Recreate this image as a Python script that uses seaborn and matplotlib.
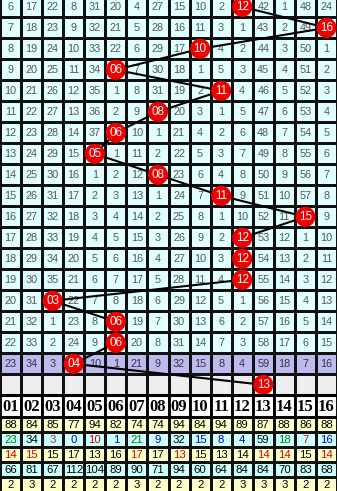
import numpy as np
import pandas as pd
import matplotlib
matplotlib.use("Agg")
import matplotlib.pyplot as plt
import seaborn as sns
from matplotlib.colors import ListedColormap

# ---------------- data ----------------
header_labels = [f"{i:02d}" for i in range(1, 17)]

# omission values per issue (drawn cell stored as 0)
omission_rows = [
    [6, 17, 22, 8, 31, 20, 4, 27, 15, 10, 2, 0, 42, 1, 48, 24],
    [7, 18, 23, 9, 32, 21, 5, 28, 16, 11, 3, 1, 43, 2, 49, 0],
    [8, 19, 24, 10, 33, 22, 6, 29, 17, 0, 4, 2, 44, 3, 50, 1],
    [9, 20, 25, 11, 34, 0, 7, 30, 18, 1, 5, 3, 45, 4, 51, 2],
    [10, 21, 26, 12, 35, 1, 8, 31, 19, 2, 0, 4, 46, 5, 52, 3],
    [11, 22, 27, 13, 36, 2, 9, 0, 20, 3, 1, 5, 47, 6, 53, 4],
    [12, 23, 28, 14, 37, 0, 10, 1, 21, 4, 2, 6, 48, 7, 54, 5],
    [13, 24, 29, 15, 0, 1, 11, 2, 22, 5, 3, 7, 49, 8, 55, 6],
    [14, 25, 30, 16, 1, 2, 12, 0, 23, 6, 4, 8, 50, 9, 56, 7],
    [15, 26, 31, 17, 2, 3, 13, 1, 24, 7, 0, 9, 51, 10, 57, 8],
    [16, 27, 32, 18, 3, 4, 14, 2, 25, 8, 1, 10, 52, 11, 0, 9],
    [17, 28, 33, 19, 4, 5, 15, 3, 26, 9, 2, 0, 53, 12, 1, 10],
    [18, 29, 34, 20, 5, 6, 16, 4, 27, 10, 3, 0, 54, 13, 2, 11],
    [19, 30, 35, 21, 6, 7, 17, 5, 28, 11, 4, 0, 55, 14, 3, 12],
    [20, 31, 0, 22, 7, 8, 18, 6, 29, 12, 5, 1, 56, 15, 4, 13],
    [21, 32, 1, 23, 8, 0, 19, 7, 30, 13, 6, 2, 57, 16, 5, 14],
    [22, 33, 2, 24, 9, 0, 20, 8, 31, 14, 7, 3, 58, 17, 6, 15],
    [23, 34, 3, 0, 10, 1, 21, 9, 32, 15, 8, 4, 59, 18, 7, 16],
]
draws = [12, 16, 10, 6, 11, 8, 6, 5, 8, 11, 15, 12, 12, 12, 3, 6, 6, 4]
next_pick = 13

stat_total = [88, 84, 85, 77, 94, 82, 74, 74, 94, 84, 94, 89, 87, 88, 86, 88]
stat_current = [23, 34, 3, 0, 10, 1, 21, 9, 32, 15, 8, 4, 59, 18, 7, 16]
stat_current_colors = ["#008000", "#000000", "#B03030", "#0000CC", "#DD0000", "#0000CC",
                       "#008000", "#0000CC", "#000000", "#0000CC", "#0000CC", "#0000CC",
                       "#000000", "#008000", "#DD0000", "#0000CC"]
stat_avg = [14, 15, 15, 17, 13, 16, 17, 17, 13, 15, 13, 14, 14, 14, 15, 14]
stat_avg_colors = ["#DD0000", "#DD0000", "#000000", "#000000", "#000000", "#000000",
                   "#DD0000", "#000000", "#DD0000", "#000000", "#000000", "#000000",
                   "#DD0000", "#DD0000", "#000000", "#DD0000"]
stat_max = [66, 81, 67, 112, 104, 89, 90, 71, 94, 60, 64, 84, 84, 70, 83, 68]
stat_streak = [2, 3, 2, 2, 2, 2, 3, 2, 2, 2, 2, 3, 3, 3, 2, 2]

# ---------------- layout ----------------
W, H = 337, 491
ncol = 16
n_main = len(omission_rows)          # 18 (17 + highlighted last issue)
row_h, stat_h = 21.0, 15.0
top0 = -3.7
heights = [row_h] * n_main + [row_h] + [21.7] + [stat_h] * 5
edges = np.concatenate([[top0], top0 + np.cumsum(heights)])
centers = (edges[:-1] + edges[1:]) / 2

MAIN, PURPLE, GRAY, WHITE, YEL, CYAN = 0, 1, 2, 3, 4, 5
cmap = ListedColormap(["#E2FFFF", "#BBBBEE", "#EEEEEE", "#FFFFFF", "#FFFFCC", "#CCFFFF"])
kinds = [MAIN] * (n_main - 1) + [PURPLE, GRAY, WHITE, YEL, CYAN, YEL, CYAN, YEL]
C = np.array([[k] * ncol for k in kinds])

sns.set_style("white")
fig = plt.figure(figsize=(W / 100, H / 100), dpi=100)
ax = fig.add_axes([0, 0, 1, 1])
ax.pcolormesh(np.arange(ncol + 1), edges, C, cmap=cmap, vmin=-0.5, vmax=5.5,
              edgecolors="#111111", linewidth=0.75)

fnt = "Liberation Sans"
# omission numbers
for r, row in enumerate(omission_rows):
    txt_col = "#333344" if r == n_main - 1 else "#555555"
    for c, v in enumerate(row):
        if v != 0:
            ax.text(c + 0.5, centers[r] + 0.5, str(v), ha="center", va="center",
                    fontsize=7.8, color=txt_col, family=fnt)

# trend line + balls
ball_rows = list(range(n_main)) + [n_main]
ball_nums = draws + [next_pick]
df = pd.DataFrame({"x": [n - 0.5 for n in ball_nums],
                   "y": [centers[r] for r in ball_rows],
                   "label": [f"{n:02d}" for n in ball_nums]})
sns.lineplot(data=df, x="x", y="y", sort=False, estimator=None, color="black",
             linewidth=1.5, ax=ax, zorder=3)
sns.scatterplot(data=df, x="x", y="y", s=210, color="#EE0000", edgecolor="none",
                ax=ax, zorder=4)
for _, rw in df.iterrows():
    ax.text(rw.x, rw.y + 0.5, rw.label, ha="center", va="center", fontsize=8.4,
            color="white", family=fnt, zorder=5)
ax.set_xlim(0, ncol)
ax.set_ylim(H, 0)
ax.axis("off")

# header
hr = n_main + 1
for c, lab in enumerate(header_labels):
    ax.text(c + 0.5, centers[hr] + 0.8, lab, ha="center", va="center", fontsize=12,
            fontweight="bold", color="black", family="Liberation Serif")
ax.hlines([edges[hr], edges[hr + 1]], 0, ncol, color="black", linewidth=2.2, zorder=6)
ax.vlines(np.arange(1, ncol), edges[hr], edges[hr + 1], color="black", linewidth=1.4, zorder=6)

# stats
stat_rows = [
    (stat_total, ["#000000"] * 16),
    (stat_current, stat_current_colors),
    (stat_avg, stat_avg_colors),
    (stat_max, ["#000000"] * 16),
    (stat_streak, ["#000000"] * 16),
]
for i, (vals, cols) in enumerate(stat_rows):
    r = hr + 1 + i
    for c, (v, col) in enumerate(zip(vals, cols)):
        ax.text(c + 0.5, centers[r] + 0.5, str(v), ha="center", va="center",
                fontsize=8.2, color=col, family=fnt)

fig.savefig("out.png", dpi=100)
